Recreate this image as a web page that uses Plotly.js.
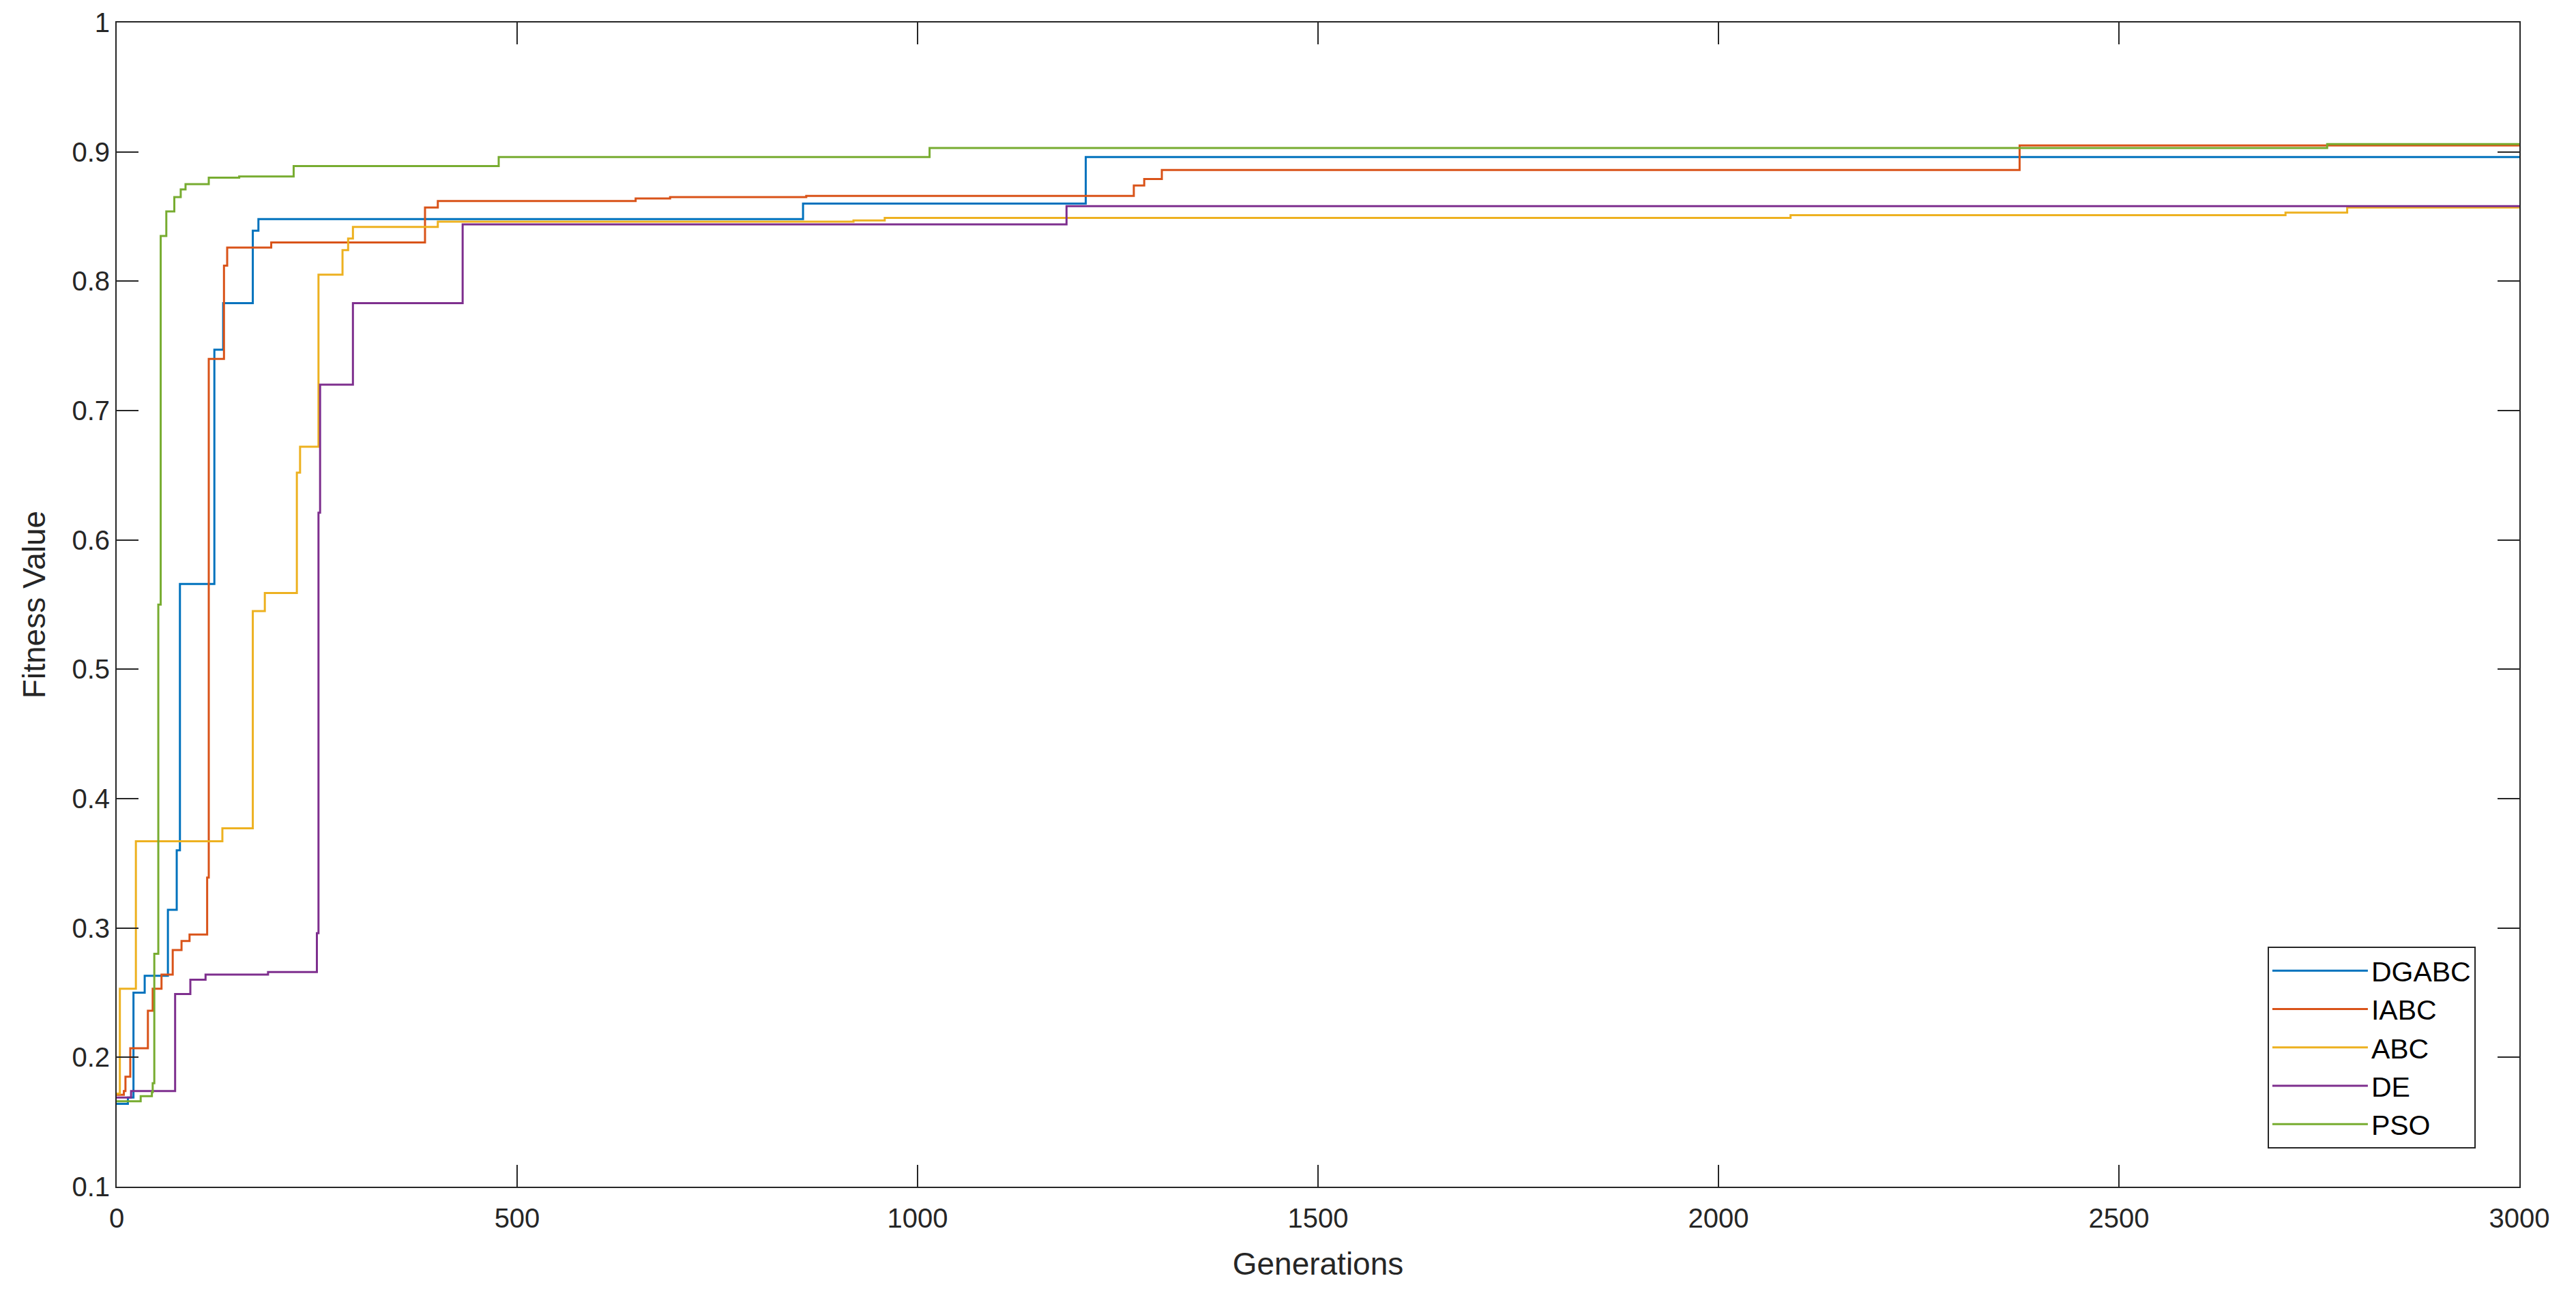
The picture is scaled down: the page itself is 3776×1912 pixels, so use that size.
<!DOCTYPE html>
<html>
<head>
<meta charset="utf-8">
<script src="https://cdn.plot.ly/plotly-3.0.1.min.js"></script>
<style>
  html, body { margin: 0; padding: 0; background: #fff; }
  #plot { width: 3776px; height: 1912px; }
</style>
</head>
<body>
<div id="plot"></div>
<script>
// step points: generation where the best fitness changes, and the new value
var series_names = ["DGABC", "IABC", "ABC", "DE", "PSO"];
var series_colors = ["#0072BD", "#D95319", "#EDB120", "#7E2F8E", "#77AC30"];

var dgabc_gen = [0, 14, 21, 35, 64, 75, 79, 122, 133, 170, 177, 857, 1210, 3000];
var dgabc_fit = [0.164, 0.169, 0.250, 0.263, 0.314, 0.360, 0.566, 0.747, 0.783, 0.839, 0.848, 0.860, 0.896, 0.896];

var iabc_gen = [0, 9, 11, 17, 39, 45, 56, 70, 81, 91, 113, 115, 134, 138, 193, 385, 401, 648, 691, 861, 1270, 1283, 1305, 2376, 3000];
var iabc_fit = [0.171, 0.174, 0.185, 0.207, 0.236, 0.253, 0.264, 0.283, 0.290, 0.295, 0.339, 0.740, 0.812, 0.826, 0.830, 0.857, 0.862, 0.864, 0.865, 0.866, 0.874, 0.879, 0.886, 0.905, 0.905];

var abc_gen = [0, 4, 24, 132, 170, 185, 225, 229, 252, 282, 289, 295, 401, 920, 959, 2090, 2708, 2785, 3000];
var abc_fit = [0.172, 0.253, 0.367, 0.377, 0.545, 0.559, 0.652, 0.672, 0.805, 0.824, 0.833, 0.842, 0.846, 0.847, 0.849, 0.851, 0.853, 0.857, 0.857];

var de_gen = [0, 18, 73, 92, 111, 189, 250, 252, 254, 295, 432, 1186, 3000];
var de_fit = [0.169, 0.174, 0.249, 0.260, 0.264, 0.266, 0.296, 0.621, 0.720, 0.783, 0.844, 0.858, 0.858];

var pso_gen = [0, 30, 44, 45, 47, 52, 55, 62, 72, 80, 86, 115, 153, 221, 477, 1015, 2760, 3000];
var pso_fit = [0.166, 0.170, 0.173, 0.180, 0.280, 0.550, 0.835, 0.854, 0.865, 0.871, 0.875, 0.880, 0.881, 0.889, 0.896, 0.903, 0.906, 0.906];

var x_ticks = [0, 500, 1000, 1500, 2000, 2500, 3000];
var y_ticks = [0.1, 0.2, 0.3, 0.4, 0.5, 0.6, 0.7, 0.8, 0.9, 1];

var all_x = [dgabc_gen, iabc_gen, abc_gen, de_gen, pso_gen];
var all_y = [dgabc_fit, iabc_fit, abc_fit, de_fit, pso_fit];

var font_family = "Liberation Sans, Arial, Helvetica, sans-serif";
var axis_color = "#262626";

var data = [];
for (let i = 0; i < series_names.length; i++) {
    data.push({
	name : series_names[i],
	type : 'scatter',
	mode : 'lines',
	x : all_x[i],
	y : all_y[i],
	line : { color : series_colors[i], width : 3, shape : 'hv' }
    });
}

var common_axis = {
    showline : true, mirror : 'ticks', linecolor : axis_color, linewidth : 2,
    ticks : 'inside', ticklen : 32, tickwidth : 2, tickcolor : axis_color,
    showgrid : false, zeroline : false,
    tickfont : { family : font_family, size : 40, color : axis_color }
};

var xaxis = Object.assign({}, common_axis, {
    range : [0, 3000], tickmode : 'array', tickvals : x_ticks,
    ticktext : x_ticks.map(String),
    ticklabelstandoff : 10,
    title : { text : 'Generations', standoff : 30,
	      font : { family : font_family, size : 46, color : axis_color } }
});
var yaxis = Object.assign({}, common_axis, {
    range : [0.1, 1], tickmode : 'array', tickvals : y_ticks,
    ticktext : y_ticks.map(String),
    title : { text : 'Fitness Value', standoff : 24,
	      font : { family : font_family, size : 46, color : axis_color } }
});

var layout = {
    width : 3776, height : 1912,
    margin : { l : 171, r : 83, t : 33, b : 172 },
    paper_bgcolor : '#ffffff', plot_bgcolor : '#ffffff',
    xaxis : xaxis,
    yaxis : yaxis,
    showlegend : true,
    legend : {
	x : 0.9818, xanchor : 'right', y : 0.0328, yanchor : 'bottom',
	bgcolor : '#ffffff', bordercolor : axis_color, borderwidth : 2,
	font : { family : font_family, size : 41, color : '#000000' },
	itemwidth : 140, tracegroupgap : 0
    }
};

Plotly.newPlot('plot', data, layout, { staticPlot : true });
</script>
</body>
</html>
